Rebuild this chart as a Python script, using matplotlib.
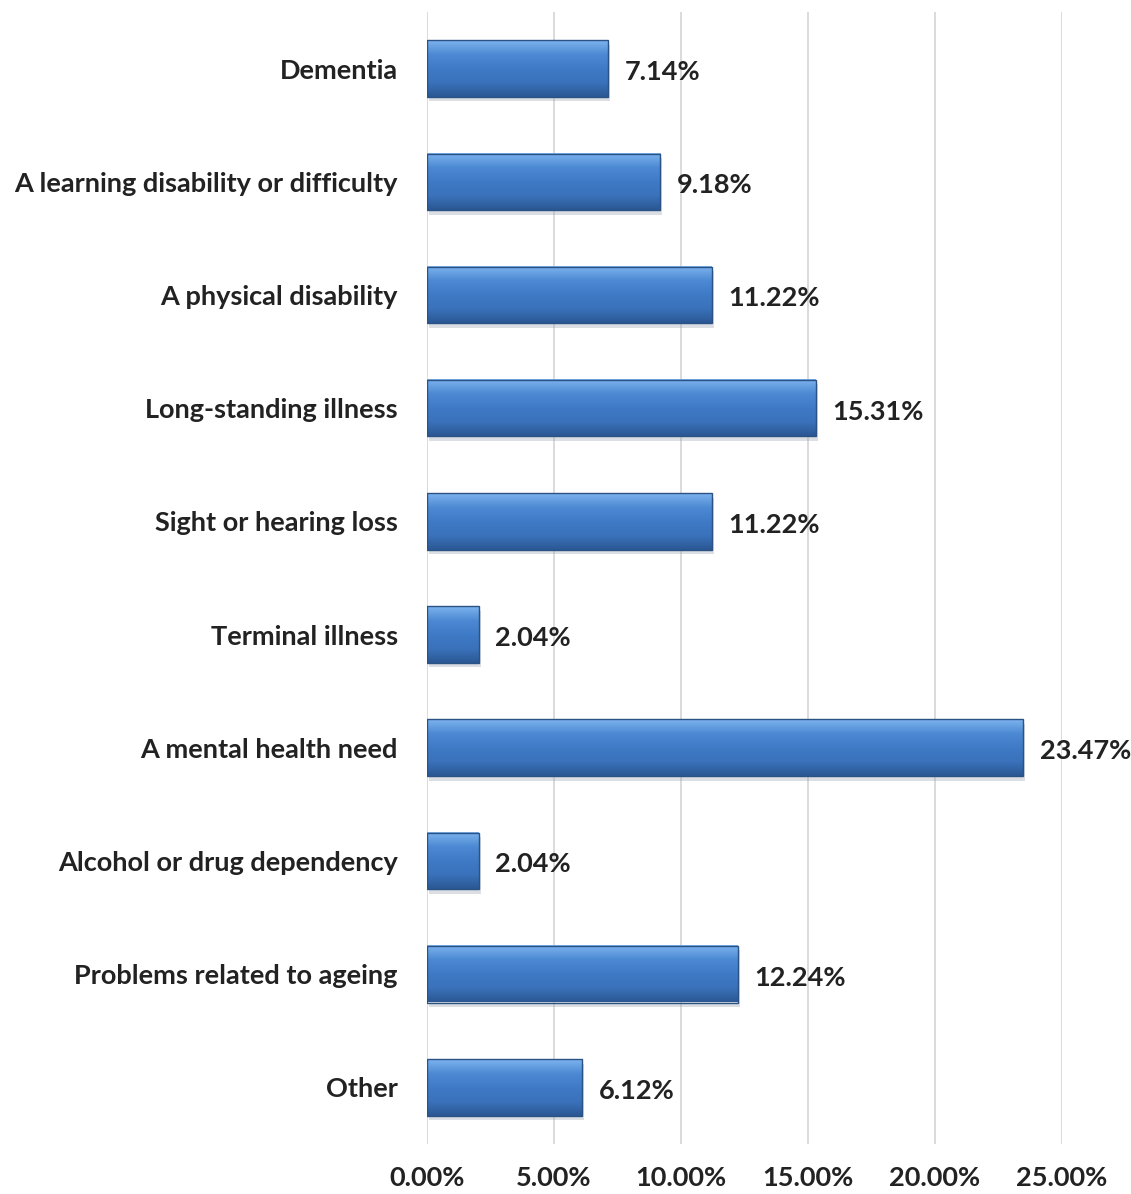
import numpy as np
import matplotlib.pyplot as plt
from matplotlib.colors import LinearSegmentedColormap

plt.rcParams['font.family'] = ['Lato', 'DejaVu Sans']

categories = ['Dementia', 'A learning disability or difficulty', 'A physical disability',
              'Long-standing illness', 'Sight or hearing loss', 'Terminal illness',
              'A mental health need', 'Alcohol or drug dependency',
              'Problems related to ageing', 'Other']
values = [7.14, 9.18, 11.22, 15.31, 11.22, 2.04, 23.47, 2.04, 12.24, 6.12]
xticks = [0, 5, 10, 15, 20, 25]

FS = 19.5
fig = plt.figure(figsize=(11.31, 11.94), dpi=100)
ax = fig.add_axes([427/1131, 1 - 1144/1194, (1062 - 427)/1131, (1144 - 12)/1194])

# vertical shading for the bevelled bars
bar_cmap = LinearSegmentedColormap.from_list(
    'bevel', ['#7DB3EE', '#4C89D3', '#3F7AC6', '#3A72BB', '#2B5894'])
grad = np.linspace(0, 1, 64).reshape(-1, 1)

h = 0.5
for i, v in enumerate(values):
    y = i
    # soft drop shadow
    ax.add_patch(plt.Rectangle((0.08, y - h/2 + 0.04), v, h, color='#9aa3ad',
                               alpha=0.35, lw=0, zorder=2))
    ax.imshow(grad, cmap=bar_cmap, aspect='auto', interpolation='bicubic',
              extent=[0, v, y + h/2, y - h/2], zorder=3)
    ax.add_patch(plt.Rectangle((0, y - h/2), v, h, fill=False,
                               ec='#2A5285', lw=1.0, zorder=4))
    ax.text(v + 0.65, y + 0.03, f'{v:.2f}%', va='center', ha='left',
            fontsize=FS, fontweight='bold', color='#222222', zorder=5)

ax.set_xlim(0, 25)
ax.set_ylim(len(values) - 0.5, -0.5)
ax.set_xticks(xticks)
ax.set_xticklabels([f'{t:.2f}%' for t in xticks], fontsize=FS,
                   fontweight='bold', color='#222222')
ax.set_yticks(range(len(categories)))
ax.set_yticklabels(categories, fontsize=FS, fontweight='bold', color='#222222')
ax.tick_params(axis='x', length=0, pad=16)
ax.tick_params(axis='y', length=0, pad=21)
ax.xaxis.grid(True, color='#d4d4d4', lw=1.2)
ax.set_axisbelow(True)
for s in ax.spines.values():
    s.set_visible(False)

fig.savefig('out.png', dpi=100)
